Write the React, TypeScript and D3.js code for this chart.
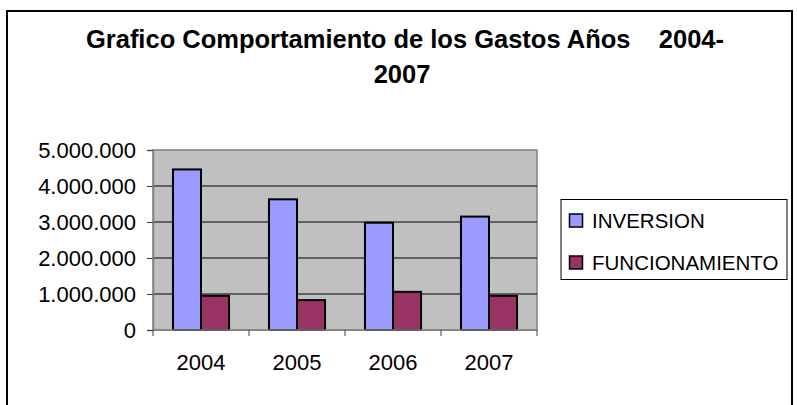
import { useEffect, useRef } from "react";
import * as d3 from "d3";

const years = ["2004", "2005", "2006", "2007"];
const seriesNames = ["INVERSION", "FUNCIONAMIENTO"];
const inversion = [4460000, 3630000, 2980000, 3150000];
const funcionamiento = [950000, 830000, 1060000, 950000];
const yTicks = [0, 1000000, 2000000, 3000000, 4000000, 5000000];
const colors = ["#9999FF", "#993366"];

export default function App() {
  const ref = useRef<SVGSVGElement>(null);

  useEffect(() => {
    const width = 797;
    const height = 405;
    const plot = { left: 153, right: 537, top: 150, bottom: 330 };

    const svg = d3.select(ref.current);
    svg.selectAll("*").remove();

    svg.append("rect").attr("width", width).attr("height", height).attr("fill", "#fff");

    // outer chart frame
    svg.append("rect")
      .attr("x", 7).attr("y", 11)
      .attr("width", 785).attr("height", 420)
      .attr("fill", "none").attr("stroke", "#000").attr("stroke-width", 2);

    // title
    const title = svg.append("g")
      .attr("font-family", "'Liberation Sans', Arial, sans-serif")
      .attr("font-weight", "bold")
      .attr("font-size", 25.5)
      .attr("fill", "#000")
      .attr("text-anchor", "middle");
    title.append("text")
      .attr("x", 405).attr("y", 48)
      .style("white-space", "pre")
      .text("Grafico Comportamiento de los Gastos Años    2004-");
    title.append("text")
      .attr("x", 402).attr("y", 83)
      .text("2007");

    const x0 = d3.scaleBand().domain(years).range([plot.left, plot.right]).paddingInner(0.416).paddingOuter(0.208);
    const x1 = d3.scaleBand().domain(seriesNames).range([0, x0.bandwidth()]);
    const y = d3.scaleLinear().domain([0, 5000000]).range([plot.bottom, plot.top]);

    // plot area
    svg.append("rect")
      .attr("x", plot.left).attr("y", plot.top)
      .attr("width", plot.right - plot.left).attr("height", plot.bottom - plot.top)
      .attr("fill", "#C0C0C0").attr("stroke", "#808080").attr("stroke-width", 1.5);

    // gridlines
    svg.append("g")
      .selectAll("line")
      .data(yTicks.slice(1, -1))
      .enter()
      .append("line")
      .attr("x1", plot.left).attr("x2", plot.right)
      .attr("y1", d => y(d)).attr("y2", d => y(d))
      .attr("stroke", "#000").attr("stroke-width", 1);

    // bars
    const data = years.map((yr, i) => ({ yr, vals: [inversion[i], funcionamiento[i]] }));
    svg.append("g")
      .selectAll("g")
      .data(data)
      .enter()
      .append("g")
      .attr("transform", d => `translate(${x0(d.yr)},0)`)
      .selectAll("rect")
      .data(d => d.vals.map((v, k) => ({ v, k })))
      .enter()
      .append("rect")
      .attr("x", d => x1(seriesNames[d.k])!)
      .attr("y", d => y(d.v))
      .attr("width", x1.bandwidth())
      .attr("height", d => plot.bottom - y(d.v))
      .attr("fill", d => colors[d.k])
      .attr("stroke", "#000")
      .attr("stroke-width", 2);

    // y axis
    const fmt = (v: number) => d3.format(",")(v).replace(/,/g, ".");
    const yAxis = svg.append("g")
      .attr("transform", `translate(${plot.left},0)`)
      .call(d3.axisLeft(y).tickValues(yTicks).tickSize(6).tickPadding(11).tickFormat(d => fmt(+d)));
    yAxis.select(".domain").attr("stroke", "#808080").attr("stroke-width", 1.5);
    yAxis.selectAll(".tick line").attr("stroke", "#404040");
    yAxis.selectAll("text")
      .attr("font-family", "'Liberation Sans', Arial, sans-serif")
      .attr("font-size", 22).attr("fill", "#000");

    // x axis
    const step = x0.step();
    const xAxis = svg.append("g").attr("transform", `translate(0,${plot.bottom})`);
    xAxis.append("line")
      .attr("x1", plot.left).attr("x2", plot.right)
      .attr("stroke", "#808080").attr("stroke-width", 1.5);
    xAxis.selectAll(".tk")
      .data(d3.range(years.length + 1))
      .enter()
      .append("line")
      .attr("class", "tk")
      .attr("x1", i => plot.left + i * step).attr("x2", i => plot.left + i * step)
      .attr("y1", 0).attr("y2", 6)
      .attr("stroke", "#404040");
    xAxis.selectAll("text")
      .data(years)
      .enter()
      .append("text")
      .attr("x", d => x0(d)! + x0.bandwidth() / 2)
      .attr("y", 40)
      .attr("text-anchor", "middle")
      .attr("font-family", "'Liberation Sans', Arial, sans-serif")
      .attr("font-size", 22)
      .text(d => d);

    // legend
    const legend = svg.append("g");
    legend.append("rect")
      .attr("x", 561).attr("y", 199.5)
      .attr("width", 226).attr("height", 80)
      .attr("fill", "#fff").attr("stroke", "#000").attr("stroke-width", 1);
    seriesNames.forEach((name, k) => {
      const cy = 221 + k * 42;
      legend.append("rect")
        .attr("x", 569.5).attr("y", cy - 7)
        .attr("width", 13).attr("height", 13)
        .attr("fill", colors[k]).attr("stroke", "#000").attr("stroke-width", 1.5);
      legend.append("text")
        .attr("x", 592).attr("y", cy + 6.5)
        .attr("font-family", "'Liberation Sans', Arial, sans-serif")
        .attr("font-size", 20.5)
        .text(name);
    });
  }, []);

  return (
    <svg
      ref={ref}
      width={797}
      height={405}
      style={{ position: "absolute", left: 0, top: 0 }}
    ></svg>
  );
}
